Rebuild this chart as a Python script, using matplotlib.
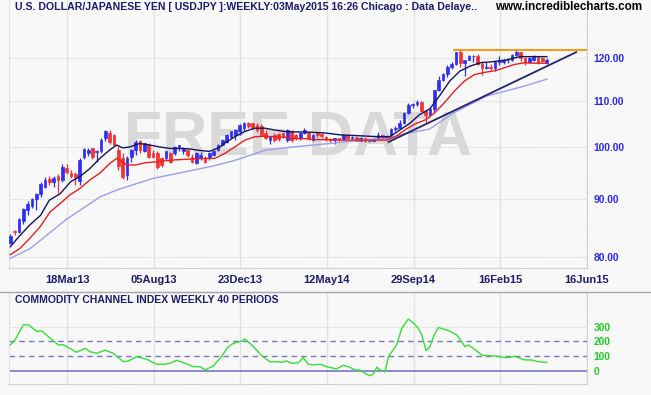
import matplotlib
matplotlib.use("Agg")
import matplotlib.pyplot as plt
from matplotlib.ticker import FixedLocator, NullLocator
from matplotlib.lines import Line2D

plt.rcParams['font.family'] = ['Liberation Sans', 'DejaVu Sans']

# weekly candles, week 0 = 10 Dec 2012
opens = [82.4, 84.4, 84.2, 86.1, 88.0, 88.7, 90.1, 91.0, 92.3, 93.7,
         93.2, 94.4, 93.6, 95.9, 94.9, 94.8, 93.4, 98.1, 98.9, 99.8,
         99.0, 99.2, 101.9, 102.9, 102.6, 99.5, 97.8, 94.5, 98.1, 99.5,
         101.4, 99.2, 100.5, 98.8, 98.8, 97.8, 97.8, 98.8, 98.8, 99.8,
         99.3, 99.5, 98.1, 96.8, 97.8, 97.8, 97.8, 98.5, 99.5, 100.5,
         101.2, 102.2, 102.6, 103.3, 104.0, 105.2, 105.0, 104.7, 104.4, 103.0,
         101.5, 102.6, 102.8, 102.9, 101.5, 103.3, 102.6, 101.9, 102.9, 102.9,
         101.5, 102.9, 102.7, 102.2, 101.8, 101.5, 101.9, 101.8, 102.5, 102.0,
         102.1, 101.3, 102.0, 101.3, 101.4, 101.8, 102.6, 102.0, 102.4, 103.9,
         104.1, 105.1, 107.3, 109.0, 109.3, 109.7, 107.7, 106.9, 108.1, 112.3,
         114.6, 116.2, 117.8, 118.6, 121.4, 118.8, 119.5, 120.4, 120.5, 118.5,
         117.5, 117.7, 117.5, 118.9, 119.0, 119.4, 119.6, 120.8, 121.4, 120.0,
         119.1, 119.4, 120.2, 119.9, 118.8]
highs = [83.9, 84.6, 86.6, 88.4, 89.7, 90.2, 91.2, 93.2, 94.1, 94.3,
         94.4, 94.8, 96.6, 96.7, 95.5, 95.1, 97.8, 99.9, 99.9, 99.9,
         99.4, 101.9, 103.7, 103.7, 102.7, 100.2, 98.9, 98.3, 99.6, 101.5,
         101.5, 101.0, 100.9, 99.4, 99.2, 98.1, 99.3, 99.0, 100.2, 100.6,
         100.0, 99.7, 98.6, 99.0, 99.0, 98.2, 99.0, 99.5, 100.7, 101.7,
         102.8, 103.4, 103.8, 104.9, 105.4, 105.4, 105.2, 105.0, 104.9, 103.6,
         102.4, 102.9, 103.0, 103.1, 103.8, 103.6, 102.8, 103.1, 104.1, 103.3,
         102.7, 103.0, 102.9, 102.4, 102.0, 102.0, 102.0, 102.8, 102.8, 102.3,
         102.1, 102.2, 102.0, 101.8, 102.0, 103.1, 102.8, 102.6, 104.0, 104.5,
         105.7, 107.4, 109.5, 109.5, 110.1, 109.9, 107.9, 108.4, 112.5, 115.6,
         116.4, 118.2, 118.9, 121.5, 121.85, 119.6, 120.6, 120.8, 121.0, 119.2,
         118.9, 118.6, 119.3, 120.5, 119.7, 120.0, 120.9, 122.0, 121.5, 120.2,
         120.2, 120.8, 120.4, 120.1, 120.0]
lows = [82.2, 83.6, 84.1, 85.6, 87.2, 88.4, 88.1, 90.4, 92.0, 92.6,
        92.3, 91.1, 93.3, 94.8, 94.0, 92.6, 92.6, 97.6, 98.3, 97.6,
        97.1, 98.9, 101.3, 100.7, 100.2, 95.6, 93.8, 93.6, 97.1, 98.5,
        98.8, 99.0, 97.8, 97.8, 95.8, 96.0, 97.5, 96.9, 98.5, 99.3,
        98.7, 98.0, 96.9, 96.6, 97.5, 96.9, 97.4, 98.2, 99.2, 100.2,
        100.9, 101.9, 101.6, 102.6, 103.5, 104.0, 103.9, 103.1, 102.4, 101.7,
        100.8, 101.2, 101.4, 101.9, 101.2, 101.2, 101.6, 101.6, 102.7, 101.5,
        101.3, 102.1, 102.0, 101.4, 101.1, 100.8, 101.4, 101.7, 101.7, 101.6,
        101.3, 101.3, 101.1, 101.1, 101.3, 101.7, 101.5, 101.7, 102.3, 103.5,
        103.8, 104.9, 107.0, 108.3, 108.7, 107.6, 105.2, 106.6, 107.4, 112.2,
        114.4, 115.5, 117.2, 118.2, 117.9, 115.6, 119.4, 119.1, 118.3, 115.9,
        117.3, 117.0, 116.9, 118.3, 118.4, 118.8, 119.3, 120.4, 119.3, 118.3,
        118.7, 119.3, 118.6, 118.9, 118.5]
closes = [83.5, 84.2, 86.4, 88.2, 89.2, 90.1, 90.9, 92.8, 93.5, 93.3,
          93.9, 93.6, 96.1, 95.2, 94.3, 94.1, 97.5, 99.7, 99.5, 98.0,
          99.2, 101.5, 103.3, 101.2, 100.5, 96.3, 94.2, 97.8, 99.5, 101.2,
          99.5, 100.9, 98.1, 98.1, 96.1, 96.5, 99.2, 97.1, 100.0, 100.5,
          99.8, 98.5, 97.1, 98.8, 98.5, 97.1, 98.8, 99.2, 100.5, 101.5,
          102.6, 103.3, 103.6, 104.7, 105.2, 104.5, 104.0, 103.6, 102.6, 101.9,
          102.2, 101.5, 101.7, 102.2, 103.6, 101.5, 101.9, 102.9, 103.6, 101.9,
          102.6, 102.5, 102.4, 101.8, 101.5, 101.9, 101.8, 102.5, 102.0, 102.1,
          101.3, 102.0, 101.3, 101.4, 101.8, 102.6, 102.0, 102.4, 103.9, 104.1,
          105.1, 107.3, 109.0, 109.3, 109.7, 107.7, 106.9, 108.2, 112.3, 114.6,
          116.2, 117.8, 118.6, 121.4, 118.8, 119.5, 120.4, 120.5, 118.5, 117.5,
          117.7, 117.5, 119.1, 119.3, 119.4, 119.6, 120.8, 121.4, 120.0, 119.1,
          119.9, 120.2, 118.9, 119.2, 119.5]

# moving averages (week index, price)
fast_x = [0, 2, 4.5, 7, 9, 11.5, 14, 16, 18.4, 20.7, 23, 24.6, 26, 27.6, 29.9,
          32.2, 34.5, 36.8, 39.1, 41.4, 43.7, 46, 48.3, 49.6, 51.9, 54.2, 56.5,
          58.8, 61.2, 63.5, 65.8, 68.1, 70.4, 72.7, 76.2, 80.8, 85.4, 87.7, 90,
          92.3, 94.6, 97, 99.3, 101.6, 103.9, 106.3, 108.6, 111.7, 114.7, 117.8,
          121.7, 124]
fast_v = [81.7, 83.4, 85.4, 87.1, 89.8, 91.0, 93.3, 94.2, 95.8, 97.8, 99.5,
          100.5, 99.9, 100.1, 100.8, 100.5, 100.1, 99.8, 99.8, 99.7, 99.4, 99.2,
          100.0, 100.9, 102.2, 103.3, 104.0, 104.0, 103.6, 103.3, 103.2, 103.2,
          103.1, 103.0, 102.6, 102.4, 102.2, 102.2, 103.6, 105.0, 106.9, 108.2,
          111.2, 114.5, 116.8, 118.0, 118.8, 119.1, 119.5, 120.3, 120.3, 120.3]
mid_x = [0, 2.2, 4.5, 6.9, 9.2, 11.5, 13.8, 16.1, 18.4, 20.7, 23, 24.6, 27, 29,
         31, 33.4, 38, 45, 47.3, 49.6, 51.9, 54.2, 56.5, 58.8, 61.2, 63.5, 65.8,
         68.1, 70.4, 72.7, 76, 80, 84, 87, 89, 91.5, 93.8, 96, 98.1, 100.4,
         102.7, 105, 107.3, 109.6, 112, 114.2, 116.5, 118.8, 121.1, 124]
mid_v = [80.4, 81.4, 83.1, 85.1, 87.7, 89.2, 90.8, 92.0, 93.6, 94.9, 96.8, 97.8,
         96.5, 96.5, 96.9, 97.1, 97.5, 97.8, 97.8, 98.8, 100.1, 101.5, 102.2,
         102.3, 102.2, 102.1, 101.8, 101.8, 101.6, 101.6, 101.5, 101.5, 101.5,
         101.5, 102.2, 103.8, 105.0, 105.8, 107.3, 109.6, 112.2, 114.5, 116.0,
         116.5, 116.9, 117.6, 118.4, 118.8, 118.7, 118.7]
slow_x = [0, 4.6, 13, 20.7, 24.6, 30.7, 33, 40.7, 46.9, 51.5, 55.4, 59.2, 65.3,
          73.8, 79.2, 86.9, 91.5, 96.9, 102.3, 110, 118.8, 124]
slow_v = [79.8, 81.4, 86.4, 90.4, 91.7, 93.3, 93.9, 95.2, 96.3, 97.3, 98.4, 99.5,
          100.1, 100.8, 101.3, 101.8, 102.9, 103.8, 107.2, 111.0, 113.3, 114.9]

trend_x = [87.4, 130.8]
trend_v = [101.1, 121.4]
resist_x = [102.5, 133.3]
resist_v = [121.85, 121.85]

cci_x = [0, 1.1, 3, 4.2, 6.1, 7.3, 9.2, 11.1, 12.3, 13.4, 15.3, 17.3, 18.4, 20,
         21.9, 23.8, 26.1, 27.3, 29.2, 30.7, 31.9, 33.8, 35.8, 36.9, 38.5, 40.4,
         42.3, 43.9, 45, 46.9, 48.5, 50.4, 51.6, 53.1, 54.3, 56.2, 58.1, 60,
         61.6, 62.7, 63.9, 65, 66.6, 67.7, 68.9, 70.4, 71.6, 73.1, 75.4, 77,
         78.5, 79.7, 80.8, 82, 83.1, 83.9, 84.7, 85.5, 86.6, 87.4, 88.2, 89.3,
         90.5, 92, 93.2, 94.3, 95.1, 96.1, 97, 97.8, 98.9, 100.1, 101.3, 102.4,
         103.2, 104.3, 105.1, 105.9, 107, 108.2, 109, 110.1, 111.6, 113.2, 114.4,
         115.5, 116.7, 117.8, 119, 120.5, 122, 123.6, 124]
cci_v = [177, 211, 313, 313, 268, 272, 222, 177, 177, 159, 127, 154, 131, 120,
         141, 120, 63, 68, 97, 86, 75, 46, 46, 52, 73, 52, 29, 29, 7, 34, 86,
         165, 188, 199, 216, 165, 104, 63, 63, 59, 68, 52, 56, 90, 46, 41, 46,
         29, 14, 39, 25, 7, 7, -16, -32, -22, 25, 7, -5, 97, 131, 177, 290, 352,
         324, 290, 245, 138, 165, 233, 295, 284, 274, 256, 245, 199, 165, 177,
         154, 127, 107, 104, 102, 97, 90, 93, 100, 86, 75, 75, 63, 59, 59]

date_pos = [13.2, 33.2, 53.2, 73.2, 93.2, 113.2, 133.2]
date_labels = ["18Mar13", "05Aug13", "23Dec13", "12May14", "29Sep14", "16Feb15", "16Jun15"]
price_ticks = [80, 90, 100, 110, 120]
cci_ticks = [0, 100, 200, 300]

W, H = 651, 395
BG = '#f8f8f8'
NAVY = '#1c1c70'
GRID = '#e2e2e2'


def box(l, t, r, b):
    return [l / W, 1 - b / H, (r - l) / W, (b - t) / H]


fig = plt.figure(figsize=(W / 100, H / 100), dpi=100, facecolor=BG)
ax = fig.add_axes(box(9, 0, 587, 268), facecolor=BG)
cx = fig.add_axes(box(9, 292, 587, 384), facecolor=BG)

ax.text(298 / W, 1 - 155 / H, "FREE DATA", transform=fig.transFigure, ha='center',
        va='baseline', fontsize=45, fontweight='bold', color='#d9d9d9', zorder=1)

# candles
for i in range(len(closes)):
    o, h, l, c = opens[i], highs[i], lows[i], closes[i]
    col = '#2f2ff2' if c >= o else '#f23232'
    ax.vlines(i, l, h, color=col, lw=0.9, zorder=3)
    ax.bar(i, max(abs(c - o), 0.08), bottom=min(o, c), width=0.62, color=col,
           edgecolor=col, lw=0.5, zorder=3)

ax.plot(slow_x, slow_v, color='#9c9cf2', lw=1.0, zorder=4)
ax.plot(mid_x, mid_v, color='#e61e1e', lw=1.0, zorder=4)
ax.plot(fast_x, fast_v, color='#14145e', lw=1.0, zorder=4)
ax.plot(trend_x, trend_v, color='#24246e', lw=1.3, zorder=4)
ax.plot(resist_x, resist_v, color='#ff8c00', lw=1.3, zorder=4)

ax.set_yscale('log')
ax.set_ylim(78.24, 135.0)
ax.set_xlim(-0.3, 133.3)
ax.yaxis.set_major_locator(FixedLocator(price_ticks))
ax.yaxis.set_minor_locator(NullLocator())
ax.set_yticklabels([f"{v:.2f}" for v in price_ticks], fontweight='bold')
ax.yaxis.tick_right()
ax.tick_params(axis='y', length=0, pad=4.5, labelsize=7.4, labelcolor='#2a2ae6')
ax.set_xticks(date_pos)
ax.set_xticklabels(date_labels, fontweight='bold')
ax.tick_params(axis='x', length=0, pad=5, labelsize=8, labelcolor=NAVY)
ax.set_axisbelow(True)
ax.grid(axis='x', color=GRID, lw=1)
ax.grid(axis='y', color='#d0d0d0', lw=0.8, ls=(0, (1, 1.5)))
ax.spines['top'].set_visible(False)
ax.spines['left'].set_color(GRID)
for s in ('right', 'bottom'):
    ax.spines[s].set_color('#c8c8c8')
    ax.spines[s].set_linestyle((0, (1, 1.5)))

# CCI panel
cx.plot(cci_x, cci_v, color='#35e035', lw=1.0, zorder=4)
cx.axhline(0, color='#7676c6', lw=1.2, zorder=2)
for lev in (100, 200):
    cx.axhline(lev, color='#7676c6', lw=1.0, ls=(0, (4, 3)), zorder=2)
cx.axhline(300, color='#d0d0d0', lw=0.8, ls=(0, (1, 1.5)), zorder=1)
cx.set_xlim(-0.3, 133.3)
cx.set_ylim(-88, 535)
cx.set_xticks(date_pos)
cx.set_xticklabels([])
cx.tick_params(axis='x', length=0)
cx.set_axisbelow(True)
cx.grid(axis='x', color=GRID, lw=1)
cx.yaxis.tick_right()
cx.set_yticks(cci_ticks)
cx.set_yticklabels([str(v) for v in cci_ticks], fontweight='bold')
cx.tick_params(axis='y', length=0, pad=4.5, labelsize=7.4, labelcolor='#22cc22')
cx.spines['left'].set_color(GRID)
for s in ('right', 'bottom', 'top'):
    cx.spines[s].set_color('#c8c8c8')
    cx.spines[s].set_linestyle((0, (1, 1.5)))

fig.add_artist(Line2D([0, 1], [1 - 291.5 / H, 1 - 291.5 / H], color='#a8a8a8', lw=1))

fig.text(15 / W, 1 - 7.5 / H,
         "U.S. DOLLAR/JAPANESE YEN [ USDJPY ]:WEEKLY:03May2015 16:26 Chicago : Data Delaye..",
         fontsize=7.6, fontweight='bold', color=NAVY, va='center')
fig.text(495 / W, 1 - 7.5 / H, "www.incrediblecharts.com", fontsize=8.4,
         fontweight='bold', color='black', va='center')
fig.text(15 / W, 1 - 300 / H, "COMMODITY CHANNEL INDEX WEEKLY 40 PERIODS",
         fontsize=7.5, fontweight='bold', color=NAVY, va='center')

fig.savefig("out.png", dpi=100, facecolor=BG)
